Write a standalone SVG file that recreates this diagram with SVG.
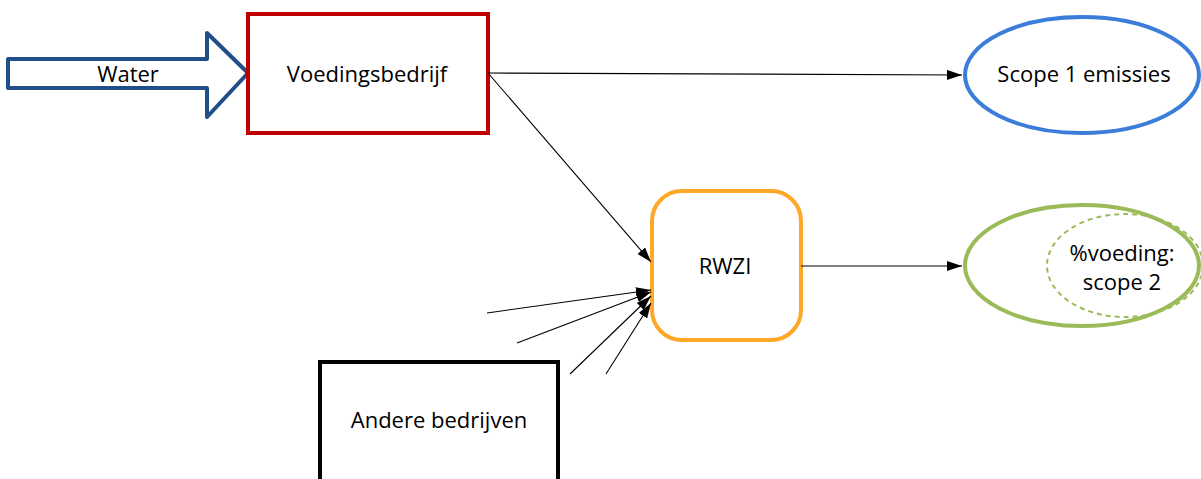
<svg xmlns="http://www.w3.org/2000/svg" width="1201" height="479" viewBox="0 0 1201 479">
<style>
text{font-family:"Open Sans","Liberation Sans",sans-serif;font-size:22px;fill:#000;text-anchor:middle}
.ln{stroke:#000;stroke-width:1.1;fill:none}
</style>
<defs>
<marker id="ah" viewBox="0 0 15 10" refX="15" refY="5" markerWidth="15" markerHeight="10" markerUnits="userSpaceOnUse" orient="auto">
<path d="M0,0 L15,5 L0,10 Z" fill="#000"/>
</marker>
</defs>
<rect width="1201" height="479" fill="#fff"/>
<g id="water">
<path d="M8,59 L207,59 L207,33 L248,73 L207,117 L207,88 L8,88 Z" fill="#fff" stroke="#1F4E89" stroke-width="4" stroke-linejoin="round"/>
<text x="128" y="82">Water</text>
</g>
<g id="voedingsbedrijf">
<rect x="248" y="14" width="240" height="119" fill="#fff" stroke="#C00000" stroke-width="4"/>
<text x="367" y="82">Voedingsbedrijf</text>
</g>
<g id="scope1">
<ellipse cx="1082" cy="75" rx="117" ry="58" fill="#fff" stroke="#3B7DD8" stroke-width="4"/>
<text x="1084" y="82">Scope 1 emissies</text>
</g>
<g id="rwzi">
<rect x="652" y="191" width="149" height="149" rx="30" fill="#fff" stroke="#FFA726" stroke-width="4"/>
<text x="725" y="274">RWZI</text>
</g>
<g id="scope2">
<ellipse cx="1082" cy="265.5" rx="117" ry="60.5" fill="#fff" stroke="#9BBB59" stroke-width="4"/>
<ellipse cx="1125" cy="265.5" rx="78" ry="51.5" fill="none" stroke="#9BBB59" stroke-width="2" stroke-dasharray="5,4"/>
<text x="1122" y="261">%voeding:</text>
<text x="1122" y="290">scope 2</text>
</g>
<g id="andere">
<rect x="320" y="362" width="238" height="130" fill="#fff" stroke="#000" stroke-width="4"/>
<text x="439" y="428">Andere bedrijven</text>
</g>
<g id="connectors">
<line class="ln" x1="488" y1="73" x2="962" y2="75" marker-end="url(#ah)"/>
<line class="ln" x1="488" y1="73" x2="651" y2="262" marker-end="url(#ah)"/>
<line class="ln" x1="801" y1="266" x2="962" y2="266" marker-end="url(#ah)"/>
<line class="ln" x1="487" y1="313" x2="651" y2="290" marker-end="url(#ah)"/>
<line class="ln" x1="517" y1="343" x2="651" y2="292" marker-end="url(#ah)"/>
<line class="ln" x1="570" y1="374" x2="651" y2="296" marker-end="url(#ah)"/>
<line class="ln" x1="606" y1="374" x2="651" y2="303" marker-end="url(#ah)"/>
</g>
</svg>
